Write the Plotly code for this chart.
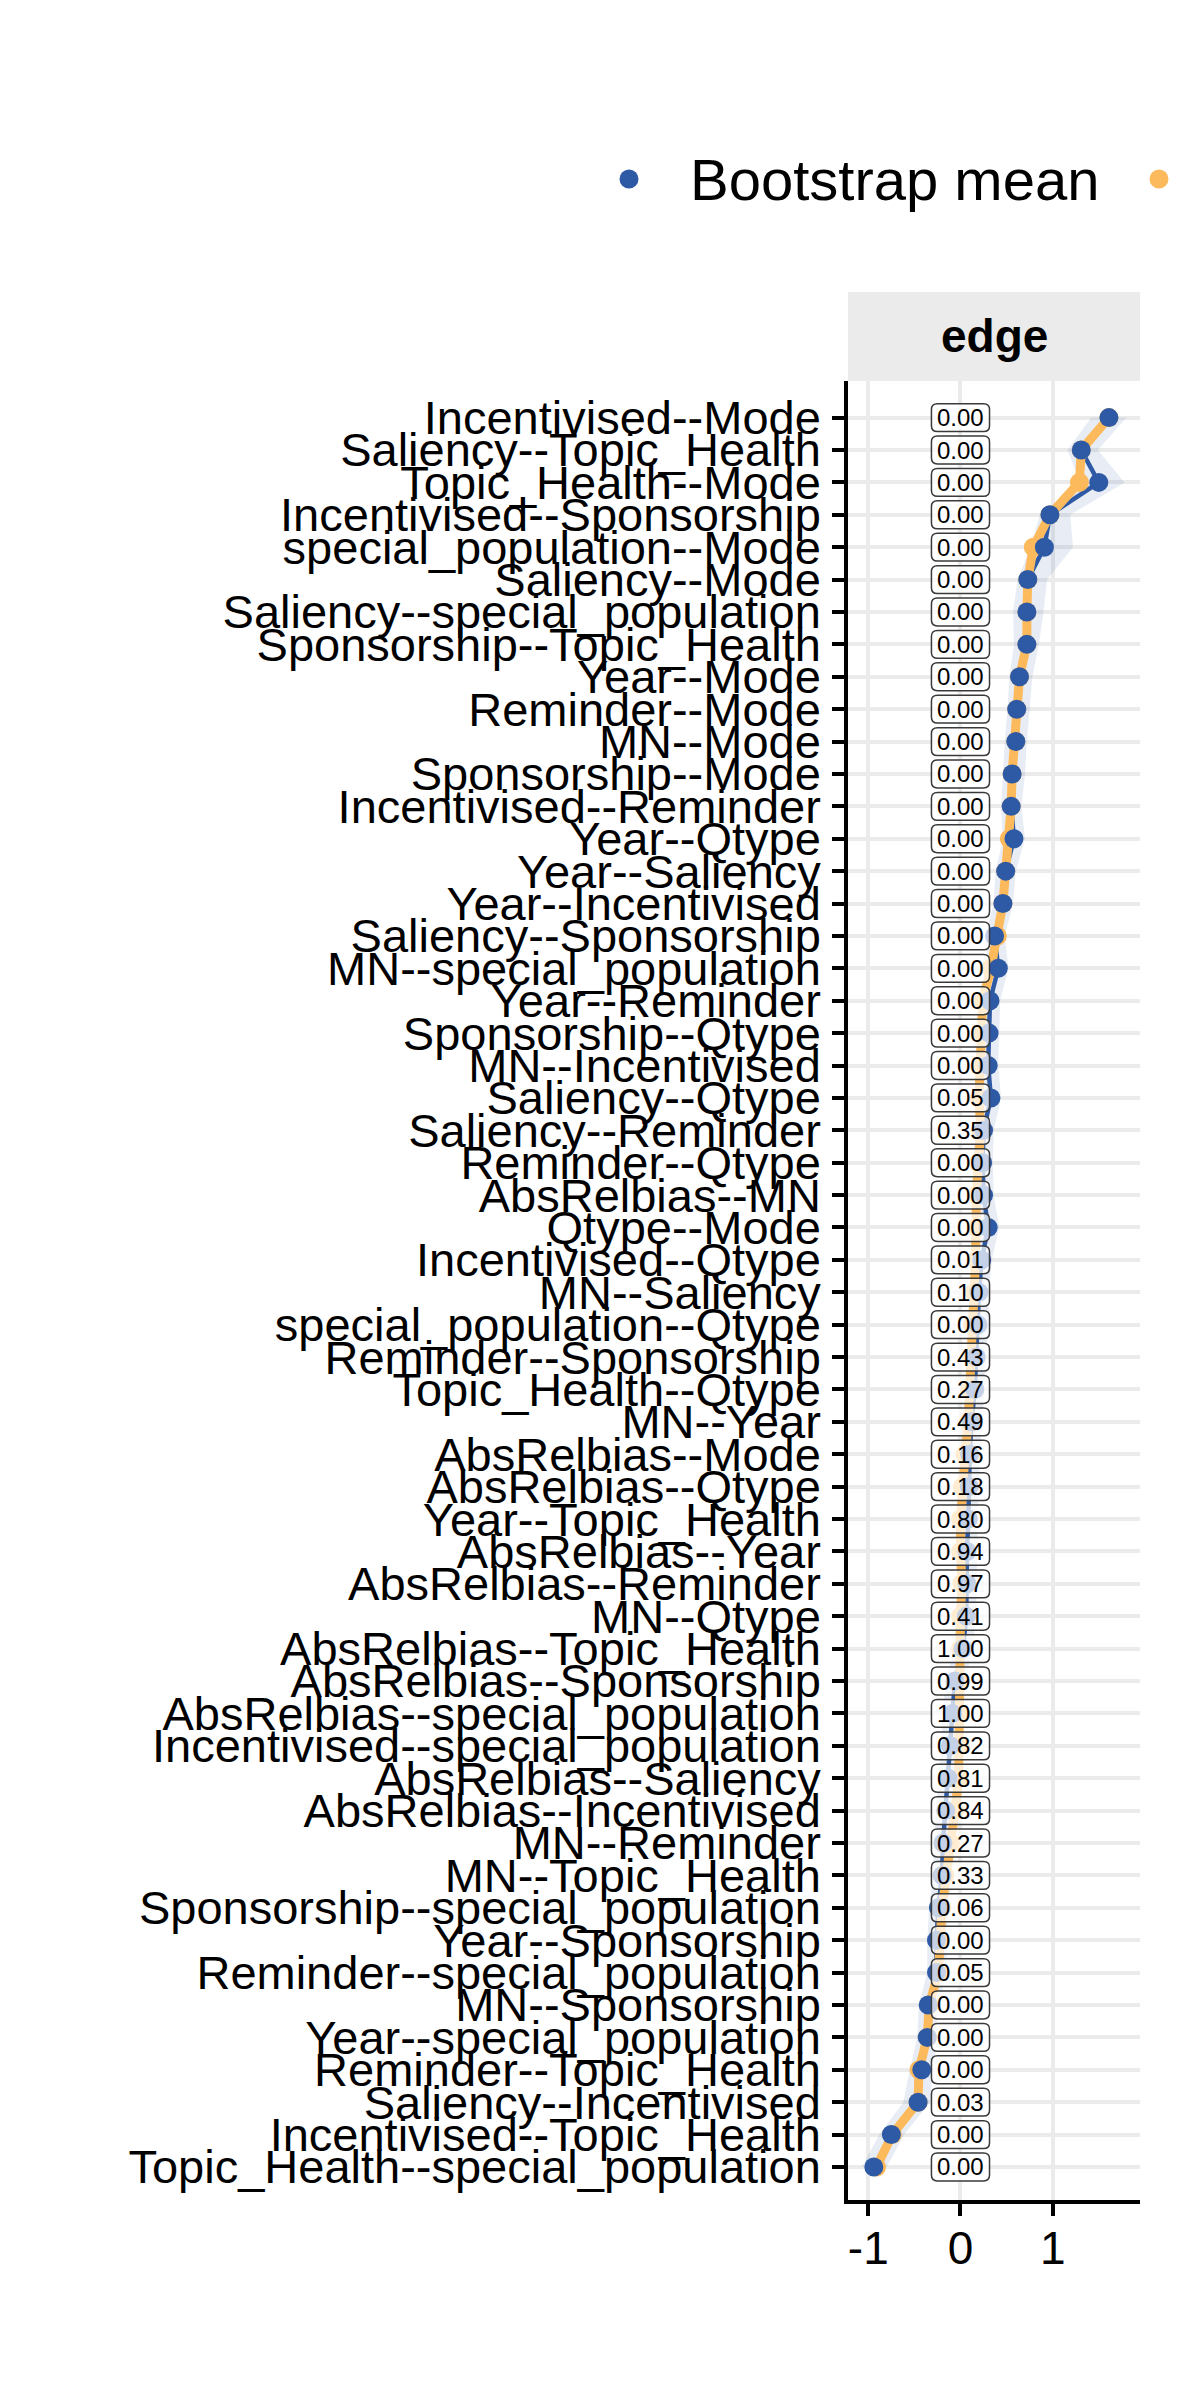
import plotly.graph_objects as go

# ---------------- data ----------------
edges = [
    "Incentivised--Mode", "Saliency--Topic_Health", "Topic_Health--Mode",
    "Incentivised--Sponsorship", "special_population--Mode", "Saliency--Mode",
    "Saliency--special_population", "Sponsorship--Topic_Health", "Year--Mode",
    "Reminder--Mode", "MN--Mode", "Sponsorship--Mode", "Incentivised--Reminder",
    "Year--Qtype", "Year--Saliency", "Year--Incentivised", "Saliency--Sponsorship",
    "MN--special_population", "Year--Reminder", "Sponsorship--Qtype",
    "MN--Incentivised", "Saliency--Qtype", "Saliency--Reminder", "Reminder--Qtype",
    "AbsRelbias--MN", "Qtype--Mode", "Incentivised--Qtype", "MN--Saliency",
    "special_population--Qtype", "Reminder--Sponsorship", "Topic_Health--Qtype",
    "MN--Year", "AbsRelbias--Mode", "AbsRelbias--Qtype", "Year--Topic_Health",
    "AbsRelbias--Year", "AbsRelbias--Reminder", "MN--Qtype",
    "AbsRelbias--Topic_Health", "AbsRelbias--Sponsorship",
    "AbsRelbias--special_population", "Incentivised--special_population",
    "AbsRelbias--Saliency", "AbsRelbias--Incentivised", "MN--Reminder",
    "MN--Topic_Health", "Sponsorship--special_population", "Year--Sponsorship",
    "Reminder--special_population", "MN--Sponsorship", "Year--special_population",
    "Reminder--Topic_Health", "Saliency--Incentivised", "Incentivised--Topic_Health",
    "Topic_Health--special_population",
]

bootstrap_mean = [
    1.61, 1.31, 1.50, 0.97, 0.91, 0.73, 0.72, 0.72, 0.64, 0.61, 0.60, 0.56, 0.55,
    0.58, 0.49, 0.46, 0.37, 0.41, 0.32, 0.31, 0.30, 0.33, 0.25, 0.24, 0.25, 0.30,
    0.23, 0.20, 0.19, 0.17, 0.155, 0.12, 0.10, 0.095, 0.085, 0.07, 0.07, 0.063,
    0.027, -0.06, -0.087, -0.11, -0.134, -0.16, -0.19, -0.20, -0.24, -0.26, -0.26,
    -0.35, -0.36, -0.42, -0.46, -0.75, -0.94,
]

sample = [
    1.61, 1.31, 1.29, 0.97, 0.79, 0.73, 0.72, 0.72, 0.64, 0.61, 0.60, 0.56, 0.55,
    0.53, 0.49, 0.46, 0.40, 0.33, 0.24, 0.22, 0.21, 0.20, 0.22, 0.19, 0.17, 0.17,
    0.17, 0.15, 0.13, 0.12, 0.10, 0.085, 0.05, 0.02, 0.0, 0.0, 0.016, 0.0, 0.0,
    0.0, 0.0, 0.0, -0.02, -0.06, -0.11, -0.17, -0.20, -0.22, -0.24, -0.34, -0.36,
    -0.45, -0.46, -0.74, -0.91,
]

ci_lower = [
    1.42, 1.16, 1.30, 0.86, 0.76, 0.62, 0.57, 0.58, 0.53, 0.51, 0.48, 0.46, 0.44,
    0.46, 0.38, 0.36, 0.27, 0.30, 0.22, 0.21, 0.20, 0.22, 0.15, 0.14, 0.15, 0.19,
    0.13, 0.10, 0.09, 0.07, 0.05, 0.02, 0.0, -0.01, -0.02, -0.03, -0.03, -0.04,
    -0.07, -0.16, -0.19, -0.21, -0.24, -0.26, -0.29, -0.30, -0.34, -0.36, -0.36,
    -0.45, -0.47, -0.55, -0.62, -0.88, -1.07,
]

ci_upper = [
    1.80, 1.49, 1.78, 1.19, 1.22, 0.94, 0.90, 0.85, 0.78, 0.75, 0.72, 0.70, 0.66,
    0.70, 0.60, 0.57, 0.48, 0.52, 0.43, 0.42, 0.41, 0.44, 0.36, 0.35, 0.36, 0.42,
    0.34, 0.31, 0.30, 0.28, 0.26, 0.23, 0.21, 0.20, 0.19, 0.18, 0.18, 0.17, 0.13,
    0.05, 0.02, 0.0, -0.03, -0.05, -0.08, -0.09, -0.13, -0.15, -0.15, -0.25, -0.26,
    -0.30, -0.33, -0.61, -0.80,
]

p_labels = [
    "0.00", "0.00", "0.00", "0.00", "0.00", "0.00", "0.00", "0.00", "0.00", "0.00",
    "0.00", "0.00", "0.00", "0.00", "0.00", "0.00", "0.00", "0.00", "0.00", "0.00",
    "0.00", "0.05", "0.35", "0.00", "0.00", "0.00", "0.01", "0.10", "0.00", "0.43",
    "0.27", "0.49", "0.16", "0.18", "0.80", "0.94", "0.97", "0.41", "1.00", "0.99",
    "1.00", "0.82", "0.81", "0.84", "0.27", "0.33", "0.06", "0.00", "0.05", "0.00",
    "0.00", "0.00", "0.03", "0.00", "0.00",
]

x_tickvals = [-1, 0, 1]
x_ticktext = ["-1", "0", "1"]
series_names = ["Bootstrap mean", "Sample"]
strip_title = "edge"

# ---------------- styling ----------------
W, H = 1200, 2400
OFF = 8  # default page body margin of the browser
L, R, T, B = 848 - OFF, 68, 381 - OFF, 208
BLUE = "#2D59A5"
ORANGE = "#FDBA5C"
BAND = "rgba(45,89,165,0.11)"
GRID = "#EBEBEB"
FONT = "Liberation Sans, Arial, Helvetica, sans-serif"

rows = list(range(len(edges)))
n = len(edges)


def pxx(px):
    # page pixel -> paper x
    return (px - OFF - L) / (W - L - R)


def pxy(py):
    # page pixel -> paper y
    return (H - B - (py - OFF)) / (H - T - B)


fig = go.Figure()

# CI band
fig.add_trace(go.Scatter(
    x=list(ci_upper) + list(ci_lower)[::-1],
    y=rows + rows[::-1],
    fill="toself", fillcolor=BAND, line=dict(width=0),
    mode="lines", hoverinfo="skip", showlegend=False,
))

# bootstrap mean line
fig.add_trace(go.Scatter(
    x=bootstrap_mean, y=rows, mode="lines",
    line=dict(color=BLUE, width=4.5), name=series_names[0],
    customdata=edges, hovertemplate="%{customdata}: %{x:.2f}<extra>Bootstrap mean</extra>",
    showlegend=False,
))

# sample line + markers
fig.add_trace(go.Scatter(
    x=sample, y=rows, mode="lines+markers",
    line=dict(color=ORANGE, width=9),
    marker=dict(color=ORANGE, size=19),
    name=series_names[1],
    customdata=edges, hovertemplate="%{customdata}: %{x:.2f}<extra>Sample</extra>",
    showlegend=False,
))

# bootstrap mean markers
fig.add_trace(go.Scatter(
    x=bootstrap_mean, y=rows, mode="markers",
    marker=dict(color=BLUE, size=19),
    name=series_names[0],
    customdata=edges, hovertemplate="%{customdata}: %{x:.2f}<extra>Bootstrap mean</extra>",
    showlegend=False,
))

shapes = []
annotations = []

# rounded label boxes
hw, hh, rx, ry = 0.315, 0.43, 0.065, 0.18
for i, lab in enumerate(p_labels):
    x0, x1 = -hw, hw
    y0, y1 = i - hh, i + hh
    path = (f"M {x0+rx},{y0} L {x1-rx},{y0} Q {x1},{y0} {x1},{y0+ry} "
            f"L {x1},{y1-ry} Q {x1},{y1} {x1-rx},{y1} L {x0+rx},{y1} "
            f"Q {x0},{y1} {x0},{y1-ry} L {x0},{y0+ry} Q {x0},{y0} {x0+rx},{y0} Z")
    shapes.append(dict(type="path", path=path, xref="x", yref="y", layer="above",
                       fillcolor="rgba(255,255,255,0.72)",
                       line=dict(color="#3a3a3a", width=1.5)))
    annotations.append(dict(x=0, y=i, xref="x", yref="y", text=lab, showarrow=False,
                            font=dict(size=24, color="black", family=FONT),
                            xanchor="center", yanchor="middle"))

# facet strip
strip_top = pxy(292)
shapes.append(dict(type="rect", xref="paper", yref="paper", x0=0, x1=1, y0=1, y1=strip_top,
                   fillcolor=GRID, line=dict(width=0), layer="below"))
annotations.append(dict(x=0.5, y=(1 + strip_top) / 2, xref="paper", yref="paper",
                        text=f"<b>{strip_title}</b>", showarrow=False,
                        font=dict(size=46, color="black", family=FONT),
                        xanchor="center", yanchor="middle"))

# manual legend (second entry runs off the canvas as in the reference)
ly = pxy(179)
for cx, col in [(629, BLUE), (1159, ORANGE)]:
    shapes.append(dict(type="circle", xref="paper", yref="paper",
                       xsizemode="pixel", ysizemode="pixel",
                       xanchor=pxx(cx), yanchor=ly, x0=-9.5, x1=9.5, y0=-9.5, y1=9.5,
                       fillcolor=col, line=dict(width=0)))
annotations.append(dict(x=pxx(688), y=ly, xref="paper", yref="paper",
                        text=series_names[0], showarrow=False,
                        font=dict(size=58, color="black", family=FONT),
                        xanchor="left", yanchor="middle"))

fig.update_layout(
    width=W, height=H,
    margin=dict(l=L, r=R, t=T, b=B),
    plot_bgcolor="white", paper_bgcolor="white",
    showlegend=False,
    font=dict(family=FONT, color="black"),
    shapes=shapes, annotations=annotations,
    xaxis=dict(
        range=[-1.22, 1.947], tickvals=x_tickvals, ticktext=x_ticktext,
        showgrid=True, gridcolor=GRID, gridwidth=4, zeroline=False,
        showline=True, linecolor="black", linewidth=3.5,
        ticks="outside", ticklen=12, tickwidth=3.5, tickcolor="black",
        tickfont=dict(size=46, color="black", family=FONT),
        ticklabelstandoff=-7, automargin=False,
    ),
    yaxis=dict(
        range=[n - 1 + 1.02, -1.13], tickvals=rows, ticktext=edges,
        showgrid=True, gridcolor=GRID, gridwidth=4, zeroline=False,
        showline=True, linecolor="black", linewidth=3.5,
        ticks="outside", ticklen=12, tickwidth=3.5, tickcolor="black",
        tickfont=dict(size=47, color="black", family=FONT),
        ticklabelstandoff=2, automargin=False,
    ),
)

fig.write_html("out.html")
